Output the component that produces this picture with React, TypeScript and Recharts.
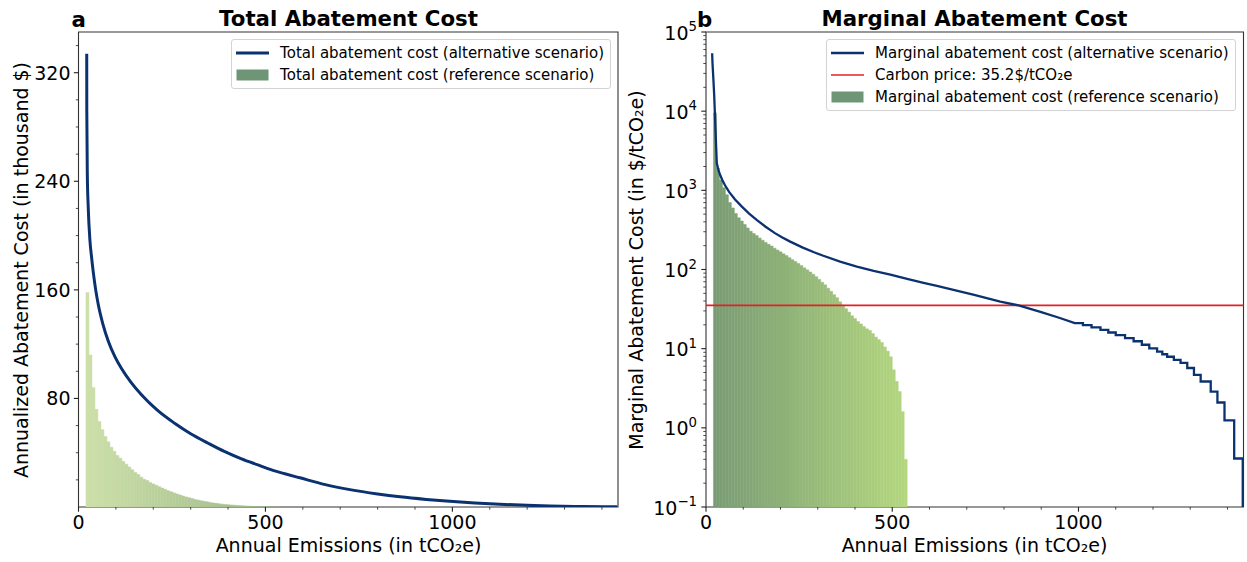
import {
  ComposedChart,
  Bar,
  Line,
  XAxis,
  YAxis,
  Cell,
  Legend,
  ReferenceLine,
  ReferenceArea,
} from 'recharts';

const FONT = '"DejaVu Sans", sans-serif';

// Reference scenario: one bar per abatement measure, placed at its emission level (tCO2e)
const refEmissions = [
  24, 32, 40, 48, 56, 64, 72, 80, 88, 96, 104, 112, 120, 128, 136, 144, 152, 160, 168, 176,
  184, 192, 200, 208, 216, 224, 232, 240, 248, 256, 264, 272, 280, 288, 296, 304, 312, 320,
  328, 336, 344, 352, 360, 368, 376, 384, 392, 400, 408, 416, 424, 432, 440, 448, 456, 464,
  472, 480, 488, 496, 504, 512, 520, 528, 536,
];
// total abatement cost still to pay at that emission level (thousand $)
const refTotalCost = [
  158, 112, 88, 72, 63, 57, 52, 48, 44, 41, 38, 36, 33.5, 31.5, 29.5, 27.5, 25.5, 24, 22, 20.5,
  19.5, 18, 17, 16, 15, 14, 13, 12, 11.2, 10.4, 9.6, 8.8, 8.1, 7.4, 6.8, 6.2, 5.6, 5.1, 4.6, 4.2,
  3.8, 3.4, 3.0, 2.7, 2.4, 2.1, 1.9, 1.7, 1.5, 1.3, 1.15, 1.0, 0.85, 0.72, 0.6, 0.5, 0.4, 0.3,
  0.22, 0.15, 0.1, 0.06, 0.03, 0.015, 0.003,
];
// marginal abatement cost of each measure ($/tCO2e)
const refMarginalCost = [
  9500, 1900, 1350, 1080, 880, 700, 600, 510, 450, 410, 370, 335, 305, 285, 268, 250, 234, 220,
  208, 198, 186, 176, 167, 158, 150, 141, 133, 126, 119, 112, 105, 99, 93, 87, 81, 75, 69, 64,
  58, 53, 48, 44, 39, 35.5, 32, 29, 26, 24, 22, 20.5, 19, 17.8, 17, 15.5, 14, 13, 12, 10.5, 9.3,
  7.9, 5.4, 3.85, 2.87, 1.6, 0.4,
];

// Alternative scenario, total abatement cost curve
const altTotalEmissions = [
  22, 22.2, 23.6, 26, 30.7, 35, 40, 46, 53, 65, 80, 97, 115, 140, 169, 210, 258, 300, 347, 390,
  436, 480, 520, 552, 592, 660, 726, 800, 860, 930, 993, 1060, 1127, 1200, 1261, 1350, 1441,
];
const altTotalCost = [
  334, 292, 245, 221, 196, 184, 172, 160, 149, 135, 122, 111, 102, 92, 82.5, 71.5, 61.5, 54, 47,
  41, 35.5, 31, 27, 24.5, 21.5, 16.5, 12.8, 9.6, 7.5, 5.6, 4.2, 3.0, 2.0, 1.2, 0.7, 0.3, 0.1,
];

// Alternative scenario, marginal abatement cost curve (the coarse steps of the tail are
// written out corner by corner)
const altMarginalEmissions = [
  16.5, 17.5, 19.5, 22, 24, 25.5, 27, 29, 33, 38, 44, 51, 62, 78, 95, 115, 136, 160, 185, 205,
  226, 260, 290, 315, 360, 405, 450, 495, 540, 584, 620, 656, 720, 790, 839, 900, 950, 990,
  1012, 1012, 1035, 1035, 1059, 1059, 1080, 1080, 1100, 1100,
  1125, 1125, 1148, 1148, 1170, 1170, 1190, 1190, 1211, 1211, 1225, 1225, 1238, 1238, 1256,
  1256, 1274, 1274, 1292, 1292, 1310, 1310, 1328, 1328, 1355, 1355, 1373, 1373, 1392, 1392,
  1418, 1418, 1441, 1441,
];
const altMarginalCost = [
  54000, 40000, 27000, 16000, 9000, 5800, 3800, 2200, 1830, 1560, 1340, 1158, 956, 767, 631,
  513, 423, 347, 288, 254, 225, 189, 165, 149, 126, 109, 96, 86, 76, 68, 62, 56.6, 47.8, 39.4,
  35.2, 29, 24.4, 21,
  21, 19.8, 19.8, 18.6, 18.6, 17.3, 17.3, 16, 16, 14.8, 14.8, 13.6, 13.6, 12.4, 12.4, 11.2, 11.2,
  10.1, 10.1, 9.2, 9.2, 8.5, 8.5, 7.9, 7.9, 7.2, 7.2, 6.6, 6.6, 5.7, 5.7, 4.67, 4.67, 3.85,
  3.85, 2.87, 2.87, 2.09, 2.09, 1.24, 1.24, 0.41, 0.41, 0.1,
];

const carbonPrice = 35.2;

const emissionTicks = [0, 100, 200, 300, 400, 500, 600, 700, 800, 900, 1000, 1100, 1200, 1300, 1400];
const emissionLabels = [0, 500, 1000];
const totalCostTicks = [20, 40, 60, 80, 100, 120, 140, 160, 180, 200, 220, 240, 260, 280, 300, 320, 340];
const totalCostLabels = [80, 160, 240, 320];
const marginalTicks = [
  0.1, 0.2, 0.3, 0.4, 0.5, 0.6, 0.7, 0.8, 0.9,
  1, 2, 3, 4, 5, 6, 7, 8, 9,
  10, 20, 30, 40, 50, 60, 70, 80, 90,
  100, 200, 300, 400, 500, 600, 700, 800, 900,
  1000, 2000, 3000, 4000, 5000, 6000, 7000, 8000, 9000,
  10000, 20000, 30000, 40000, 50000, 60000, 70000, 80000, 90000,
  100000,
];
const marginalLabels = [0.1, 1, 10, 100, 1000, 10000, 100000];

const X_MAX = 1443;
const NAVY = '#0b3270';
const RED = '#e32026';
const PATCH = '#6e9676';
const AXIS_W = 60;
const AXIS_H = 30;

const refTotalData = refEmissions.map((x, i) => ({ x, cost: refTotalCost[i] }));
const refMarginalData = refEmissions.map((x, i) => ({ x, cost: refMarginalCost[i] }));
const altTotalData = altTotalEmissions.map((x, i) => ({ x, cost: altTotalCost[i] }));
const altMarginalData = altMarginalEmissions.map((x, i) => ({ x, cost: altMarginalCost[i] }));

const hex = (c: string) => [1, 3, 5].map((k) => parseInt(c.slice(k, k + 2), 16));
const mix = (a: string, b: string, t: number) => {
  const pa = hex(a);
  const pb = hex(b);
  return (
    '#' +
    pa
      .map((v, j) => Math.round(v + (pb[j] - v) * t).toString(16).padStart(2, '0'))
      .join('')
  );
};

const tickText = { fontFamily: FONT, fontSize: 19, fill: '#000' };

type TickProps = { x?: number; y?: number; payload?: { value: number } };

const EmissionTick = ({ x = 0, y = 0, payload }: TickProps) => {
  const v = payload?.value ?? 0;
  const major = emissionLabels.includes(v);
  return (
    <g>
      <line x1={x} x2={x} y1={y} y2={y + (major ? 4.7 : 2.7)} stroke="#222" strokeWidth={major ? 1.1 : 0.8} />
      {major && (
        <text x={x} y={y + 22} textAnchor="middle" {...tickText}>
          {v}
        </text>
      )}
    </g>
  );
};

const TotalCostTick = ({ x = 0, y = 0, payload }: TickProps) => {
  const v = payload?.value ?? 0;
  const major = totalCostLabels.includes(v);
  return (
    <g>
      <line x1={x - (major ? 4.7 : 2.7)} x2={x} y1={y} y2={y} stroke="#222" strokeWidth={major ? 1.1 : 0.8} />
      {major && (
        <text x={x - 8} y={y} dy="0.36em" textAnchor="end" {...tickText}>
          {v}
        </text>
      )}
    </g>
  );
};

const MarginalTick = ({ x = 0, y = 0, payload }: TickProps) => {
  const v = payload?.value ?? 1;
  const major = marginalLabels.includes(v);
  const exp = Math.round(Math.log10(v));
  return (
    <g>
      <line x1={x - (major ? 4.7 : 2.7)} x2={x} y1={y} y2={y} stroke="#222" strokeWidth={major ? 1.1 : 0.8} />
      {major && (
        <text x={x - 9} y={y + 7.5} textAnchor="end" {...tickText}>
          <tspan>10</tspan>
          <tspan dy={-8.5} fontSize={13.3}>
            {exp < 0 ? `\u2212${-exp}` : exp}
          </tspan>
        </text>
      )}
    </g>
  );
};

type LegendItem = { label: string; kind: 'line' | 'patch'; color: string; width?: number };

const LegendBox = ({ items }: { items: LegendItem[] }) => (
  <div
    style={{
      border: '1px solid #d3d3d3',
      borderRadius: 3,
      background: 'rgba(255,255,255,0.85)',
      padding: '2px 6px 2px 4px',
      fontFamily: FONT,
      fontSize: 15,
      lineHeight: '22px',
      color: '#000',
    }}
  >
    {items.map((it) => (
      <div key={it.label} style={{ display: 'flex', alignItems: 'center', whiteSpace: 'nowrap' }}>
        <svg width={33} height={12} style={{ marginRight: 11, flex: 'none' }}>
          {it.kind === 'line' ? (
            <line x1={0} x2={33} y1={6} y2={6} stroke={it.color} strokeWidth={it.width ?? 2.5} />
          ) : (
            <rect x={0.5} y={0.5} width={32} height={11} fill={it.color} />
          )}
        </svg>
        <span>{it.label}</span>
      </div>
    ))}
  </div>
);

const totalLegend: LegendItem[] = [
  { label: 'Total abatement cost (alternative scenario)', kind: 'line', color: NAVY, width: 3 },
  { label: 'Total abatement cost (reference scenario)', kind: 'patch', color: PATCH },
];
const marginalLegend: LegendItem[] = [
  { label: 'Marginal abatement cost (alternative scenario)', kind: 'line', color: NAVY, width: 2.5 },
  { label: 'Carbon price: 35.2$/tCO\u2082e', kind: 'line', color: RED, width: 1.6 },
  { label: 'Marginal abatement cost (reference scenario)', kind: 'patch', color: PATCH },
];

const TotalCostChart = () => (
  <ComposedChart
    width={625}
    height={562}
    data={refTotalData}
    margin={{ top: 32, right: 7, bottom: 55 - AXIS_H, left: 78.5 - AXIS_W }}
    barCategoryGap={0}
    barGap={0}
  >
    <XAxis
      type="number"
      dataKey="x"
      domain={[0, X_MAX]}
      allowDataOverflow
      ticks={emissionTicks}
      interval={0}
      height={AXIS_H}
      tickSize={0}
      tickMargin={0}
      axisLine={false}
      tickLine={false}
      tick={<EmissionTick />}
    />
    <XAxis xAxisId="bars" type="number" dataKey="x" domain={[0, X_MAX]} allowDataOverflow hide />
    <YAxis
      type="number"
      domain={[0, 350]}
      allowDataOverflow
      ticks={totalCostTicks}
      interval={0}
      width={AXIS_W}
      tickSize={0}
      tickMargin={0}
      axisLine={false}
      tickLine={false}
      tick={<TotalCostTick />}
    />
    <Bar xAxisId="bars" dataKey="cost" isAnimationActive={false}>
      {refTotalData.map((d, i) => {
        const c = mix('#cde0aa', '#9ab584', i / (refTotalData.length - 1));
        return <Cell key={d.x} fill={c} stroke={c} strokeWidth={0.5} />;
      })}
    </Bar>
    <Line
      data={altTotalData}
      dataKey="cost"
      type="monotone"
      stroke={NAVY}
      strokeWidth={3}
      dot={false}
      isAnimationActive={false}
    />
    <ReferenceArea x1={0} x2={X_MAX} y1={0} y2={350} fill="none" stroke="#333" strokeWidth={1.1} />
    <Legend
      layout="horizontal"
      verticalAlign="middle"
      align="center"
      wrapperStyle={{ top: 39, right: 14, left: 'auto', width: 'auto', height: 'auto' }}
      content={() => <LegendBox items={totalLegend} />}
    />
  </ComposedChart>
);

const MarginalCostChart = () => (
  <ComposedChart
    width={622}
    height={562}
    data={refMarginalData}
    margin={{ top: 32, right: 3.5, bottom: 55 - AXIS_H, left: 81 - AXIS_W }}
    barCategoryGap={0}
    barGap={0}
  >
    <XAxis
      type="number"
      dataKey="x"
      domain={[0, X_MAX]}
      allowDataOverflow
      ticks={emissionTicks}
      interval={0}
      height={AXIS_H}
      tickSize={0}
      tickMargin={0}
      axisLine={false}
      tickLine={false}
      tick={<EmissionTick />}
    />
    <XAxis xAxisId="bars" type="number" dataKey="x" domain={[0, X_MAX]} allowDataOverflow hide />
    <YAxis
      type="number"
      scale="log"
      domain={[0.1, 100000]}
      allowDataOverflow
      ticks={marginalTicks}
      interval={0}
      width={AXIS_W}
      tickSize={0}
      tickMargin={0}
      axisLine={false}
      tickLine={false}
      tick={<MarginalTick />}
    />
    <Bar xAxisId="bars" dataKey="cost" isAnimationActive={false}>
      {refMarginalData.map((d, i) => {
        const c = mix('#7a9c75', '#b3d77f', i / (refMarginalData.length - 1));
        return <Cell key={d.x} fill={c} stroke={c} strokeWidth={0.5} />;
      })}
    </Bar>
    <ReferenceLine y={carbonPrice} stroke={RED} strokeWidth={1.6} />
    <Line
      data={altMarginalData}
      dataKey="cost"
      type="linear"
      stroke={NAVY}
      strokeWidth={2.3}
      dot={false}
      isAnimationActive={false}
    />
    <ReferenceArea x1={0} x2={X_MAX} y1={0.1} y2={100000} fill="none" stroke="#333" strokeWidth={1.1} />
    <Legend
      layout="horizontal"
      verticalAlign="middle"
      align="center"
      wrapperStyle={{ top: 39, right: 11.5, left: 'auto', width: 'auto', height: 'auto' }}
      content={() => <LegendBox items={marginalLegend} />}
    />
  </ComposedChart>
);

export default function App() {
  return (
    <div
      style={{
        position: 'absolute',
        left: 0,
        top: 0,
        width: 1247,
        height: 562,
        background: '#fff',
        fontFamily: FONT,
      }}
    >
      <div style={{ position: 'absolute', left: 0, top: 0 }}>
        <TotalCostChart />
      </div>
      <div style={{ position: 'absolute', left: 625, top: 0 }}>
        <MarginalCostChart />
      </div>
      <svg
        width={1247}
        height={562}
        style={{ position: 'absolute', left: 0, top: 0, pointerEvents: 'none' }}
        fontFamily={FONT}
      >
        <text x={71.5} y={26.5} fontSize={21.3} fontWeight="bold">a</text>
        <text x={348.5} y={26} fontSize={21.3} fontWeight="bold" textAnchor="middle">
          Total Abatement Cost
        </text>
        <text x={697} y={26.5} fontSize={21.3} fontWeight="bold">b</text>
        <text x={974.5} y={26} fontSize={21.3} fontWeight="bold" textAnchor="middle">
          Marginal Abatement Cost
        </text>
        <text x={348.5} y={552} fontSize={19} textAnchor="middle">
          Annual Emissions (in tCO₂e)
        </text>
        <text x={974.5} y={552} fontSize={19} textAnchor="middle">
          Annual Emissions (in tCO₂e)
        </text>
        <text transform="translate(27.5,270) rotate(-90)" fontSize={19} textAnchor="middle">
          Annualized Abatement Cost (in thousand $)
        </text>
        <text transform="translate(642.5,270) rotate(-90)" fontSize={19} textAnchor="middle">
          Marginal Abatement Cost (in $/tCO₂e)
        </text>
      </svg>
    </div>
  );
}
